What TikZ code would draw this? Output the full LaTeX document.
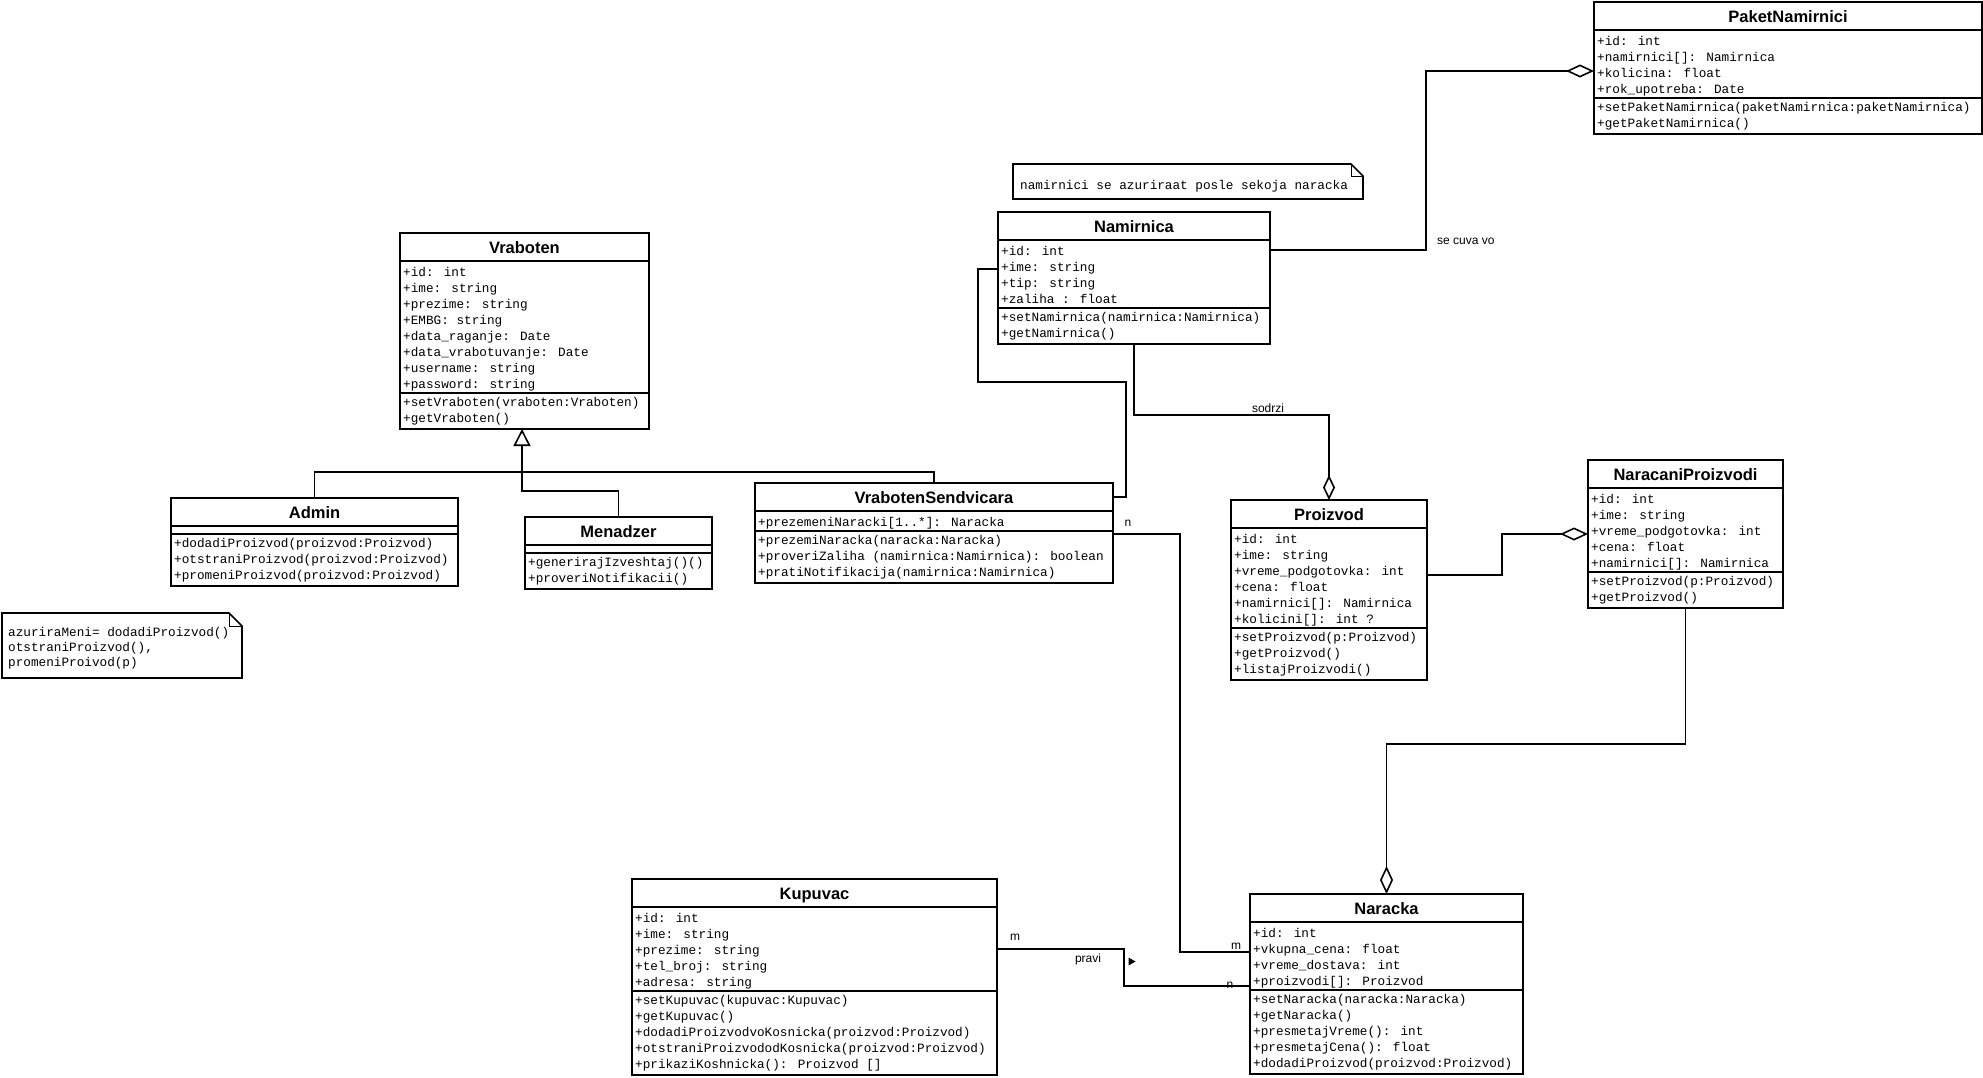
\documentclass[tikz,border=0pt]{standalone}
\usepackage{fontspec}
\newfontfamily\monof{Liberation Mono}
\newfontfamily\sansf{Liberation Sans}
\usetikzlibrary{arrows.meta,calc}
\tikzset{
 classbox/.style={draw, line width=1.6pt, rectangle, inner sep=0pt, outer sep=0pt, anchor=north west, fill=white},
 sepline/.style={line width=1.6pt},
 classtitle/.style={font=\sansf\bfseries\fontsize{16.5}{18}\selectfont, inner sep=0pt, anchor=base},
 rowtext/.style={font=\monof\fontsize{12.7}{16}\selectfont, align=left, inner sep=0pt, anchor=north west},
 notetext/.style={font=\monof\fontsize{12.7}{15}\selectfont, align=left, inner sep=0pt},
 lbl/.style={font=\sansf\fontsize{12}{14}\selectfont, inner sep=0pt},
 conn/.style={line width=1.6pt},
 aggr/.style={conn, -{Diamond[open, length=28pt, width=13pt]}},
 aggrs/.style={conn, -{Diamond[open, length=25pt, width=12pt]}},
 gener/.style={conn, -{Triangle[open, length=17pt, width=17pt]}},
 notebox/.style={line width=1.6pt, fill=white},
 foldline/.style={line width=1pt},
}
% #1 name, #2 left, #3 top, #4 right, #5 separator y, #6 bottom, #7 title, #8 attributes, #9 operations
\newcommand{\umlclass}[9]{%
 \node[classbox, minimum width={#4-#2}, minimum height={#6-#3}] (#1) at (#2,#3) {};
 \draw[sepline] (#2,{#3+28}) -- (#4,{#3+28});
 \draw[sepline] (#2,#5) -- (#4,#5);
 \node[classtitle] (#1-title) at ({(#2+#4)/2},{#3+20}) {#7};
 \node[rowtext] (#1-attrs) at ({#2+3},{#3+32}) {\strut #8};
 \node[rowtext] (#1-ops) at ({#2+3},{#5+2}) {\strut #9};
}
\begin{document}
\begin{tikzpicture}[x=1pt,y=-1pt]
\useasboundingbox (0,0) rectangle (1983,1077);
\fill[white] (0,0) rectangle (1983,1077);

% classes
\umlclass{paket}{1594}{2}{1982}{98}{134}{PaketNamirnici}
 {+id: int\\+namirnici[]: Namirnica\\+kolicina: float\\+rok\_upotreba: Date}
 {+setPaketNamirnica(paketNamirnica:paketNamirnica)\\+getPaketNamirnica()}
\umlclass{namirnica}{998}{212}{1270}{308}{344}{Namirnica}
 {+id: int\\+ime: string\\+tip: string\\+zaliha : float}
 {+setNamirnica(namirnica:Namirnica)\\+getNamirnica()}
\umlclass{vraboten}{400}{233}{649}{393}{429}{Vraboten}
 {+id: int\\+ime: string\\+prezime: string\\+EMBG: string\\+data\_raganje: Date\\+data\_vrabotuvanje: Date\\+username: string\\+password: string}
 {+setVraboten(vraboten:Vraboten)\\+getVraboten()}
\umlclass{admin}{171}{498}{458}{534}{586}{Admin}
 {}
 {+dodadiProizvod(proizvod:Proizvod)\\+otstraniProizvod(proizvod:Proizvod)\\+promeniProizvod(proizvod:Proizvod)}
\umlclass{menadzer}{525}{517}{712}{553}{589}{Menadzer}
 {}
 {+generirajIzveshtaj()()\\+proveriNotifikacii()}
\umlclass{vs}{755}{483}{1113}{531}{583}{VrabotenSendvicara}
 {+prezemeniNaracki[1..*]: Naracka}
 {+prezemiNaracka(naracka:Naracka)\\+proveriZaliha (namirnica:Namirnica): boolean\\+pratiNotifikacija(namirnica:Namirnica)}
\umlclass{proizvod}{1231}{500}{1427}{628}{680}{Proizvod}
 {+id: int\\+ime: string\\+vreme\_podgotovka: int\\+cena: float\\+namirnici[]: Namirnica\\+kolicini[]: int ?}
 {+setProizvod(p:Proizvod)\\+getProizvod()\\+listajProizvodi()}
\umlclass{narp}{1588}{460}{1783}{572}{608}{NaracaniProizvodi}
 {+id: int\\+ime: string\\+vreme\_podgotovka: int\\+cena: float\\+namirnici[]: Namirnica}
 {+setProizvod(p:Proizvod)\\+getProizvod()}
\umlclass{naracka}{1250}{894}{1523}{990}{1074}{Naracka}
 {+id: int\\+vkupna\_cena: float\\+vreme\_dostava: int\\+proizvodi[]: Proizvod}
 {+setNaracka(naracka:Naracka)\\+getNaracka()\\+presmetajVreme(): int\\+presmetajCena(): float\\+dodadiProizvod(proizvod:Proizvod)}
\umlclass{kupuvac}{632}{879}{997}{991}{1075}{Kupuvac}
 {+id: int\\+ime: string\\+prezime: string\\+tel\_broj: string\\+adresa: string}
 {+setKupuvac(kupuvac:Kupuvac)\\+getKupuvac()\\+dodadiProizvodvoKosnicka(proizvod:Proizvod)\\+otstraniProizvododKosnicka(proizvod:Proizvod)\\+prikaziKoshnicka(): Proizvod []}

% notes
\draw[notebox] (1013,164) -- (1351,164) -- (1363,176) -- (1363,199) -- (1013,199) -- cycle;
\draw[foldline] (1351,164) -- (1351,176) -- (1363,176);
\node[notetext, anchor=base west] (note1) at (1020,189.5) {namirnici se azuriraat posle sekoja naracka};
\draw[notebox] (2,613) -- (229,613) -- (242,626) -- (242,678) -- (2,678) -- cycle;
\draw[foldline] (229,613) -- (229,626) -- (242,626);
\node[notetext, anchor=north west] (note2) at (8,626) {\strut azuriraMeni= dodadiProizvod()\\otstraniProizvod(),\\promeniProivod(p)};

% generalization
\coordinate (gj) at (522,472);
\coordinate (gm) at (522,491);
\draw[conn] (admin.north) |- (gj) -| (vs.north);
\draw[conn] (gj) -- (gm) -| (menadzer.north);
\draw[gener] (gj) -- (vraboten.south -| gj);

% Namirnica - PaketNamirnici
\coordinate (c2) at (1426,71);
\draw[aggr] ($(namirnica.north east)+(0,38)$) -| (c2) -- (paket.west |- c2);
\node[lbl, anchor=west] (lcuva) at (1437,241) {se cuva vo};

% VrabotenSendvicara - Namirnica
\coordinate (k1) at (1126,382);
\coordinate (k2) at (978,269);
\draw[conn] ($(vs.north east)+(0,14)$) -| (k1) -| (k2) -- (namirnica.west |- k2);

% Namirnica - Proizvod (sodrzi)
\coordinate (s1) at (1134,415);
\draw[aggrs] (namirnica.south -| s1) |- (proizvod.north |- s1) -- (proizvod.north);
\node[lbl] (lsodrzi) at (1268,408) {sodrzi};

% Proizvod - NaracaniProizvodi
\coordinate (c3) at (1502,534);
\draw[aggr] ($(proizvod.north east)+(0,75)$) -| (c3) -- (narp.west |- c3);

% NaracaniProizvodi - Naracka
\coordinate (c4) at (1686,744);
\draw[aggr] (narp.south) |- (naracka.north |- c4) -- (naracka.north);

% VrabotenSendvicara - Naracka
\coordinate (c5) at (1180,952);
\draw[conn] ($(vs.north east)+(0,51)$) -| (c5) -- (naracka.west |- c5);
\node[lbl] (ln1) at (1128,523) {n};
\node[lbl] (lm1) at (1236,946) {m};

% Kupuvac - Naracka (pravi)
\coordinate (c6) at (1124,986);
\draw[conn] ($(kupuvac.north east)+(0,70)$) -| (c6) -- (naracka.west |- c6);
\node[lbl] (lm2) at (1015,937) {m};
\node[lbl] (lpravi) at (1088,959) {pravi};
\fill (1128.5,957.5) -- (1135.5,961.5) -- (1128.5,965.5) -- cycle;
\node[lbl] (ln2) at (1230,985) {n};
\end{tikzpicture}
\end{document}
